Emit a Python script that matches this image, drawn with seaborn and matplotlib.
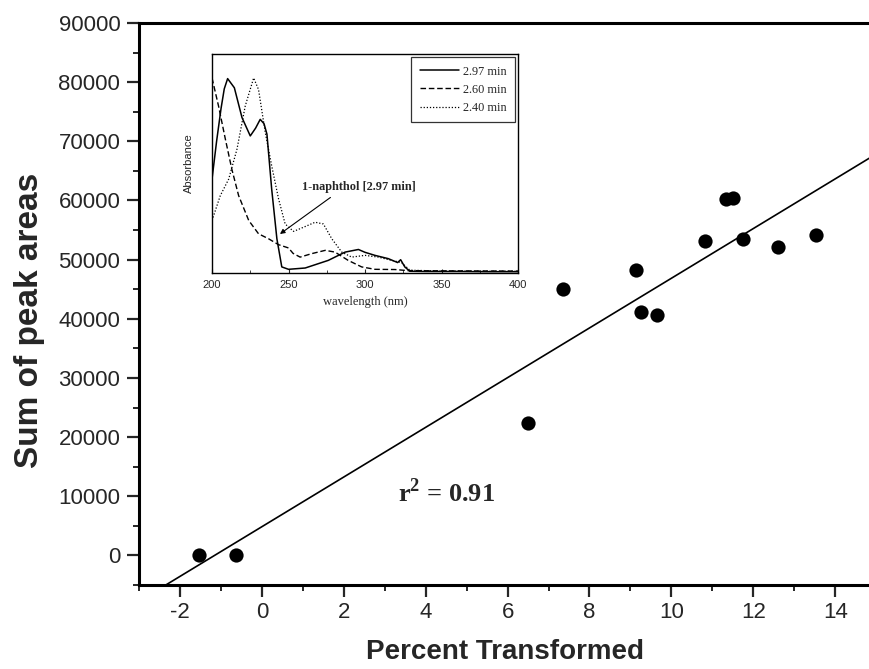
import matplotlib
matplotlib.use("Agg")
import matplotlib.pyplot as plt
import seaborn as sns
import pandas as pd
from matplotlib.ticker import MultipleLocator, NullLocator

# ---------------- main scatter data ----------------
percent_transformed = [-1.53, -0.63, 6.51, 7.35, 9.13, 9.25, 9.65, 10.83, 11.34, 11.50, 11.75, 12.61, 13.54]
sum_peak_areas = [0, 0, 22400, 45000, 48200, 41100, 40700, 53200, 60300, 60500, 53500, 52200, 54200]
fit_slope = 4200
fit_intercept = 4850
r_squared_label = r"r$^{\mathbf{2}}$ = 0.91"
x_ticks = [-2, 0, 2, 4, 6, 8, 10, 12, 14]
y_ticks = [0, 10000, 20000, 30000, 40000, 50000, 60000, 70000, 80000, 90000]

# ---------------- inset spectra data ----------------
wl_297 = [200, 203, 205.9, 208, 210.2, 214.6, 219.6, 225, 228.5, 231.5, 234, 235.9, 239, 242.4,
          245.6, 250, 260.9, 276, 287, 295.7, 300, 306.5, 315.2, 321.3, 323.3, 326, 329.3, 340, 360, 380, 400]
abs_297 = [0.426, 0.60, 0.75, 0.84, 0.887, 0.845, 0.708, 0.624, 0.66, 0.70, 0.68, 0.632, 0.38, 0.152,
           0.023, 0.012, 0.018, 0.053, 0.091, 0.103, 0.09, 0.076, 0.061, 0.043, 0.056, 0.023, 0.003, 0.002, 0.002, 0.001, 0.001]
wl_260 = [200, 204.3, 208.7, 213, 217.4, 224, 230.4, 237, 243.5, 250, 253, 257.6, 265.2, 274,
          280.4, 289, 297.8, 306.5, 319.6, 328, 350, 400]
abs_260 = [0.89, 0.76, 0.61, 0.47, 0.35, 0.236, 0.175, 0.152, 0.125, 0.11, 0.085, 0.068, 0.084, 0.099,
           0.091, 0.053, 0.023, 0.012, 0.011, 0.006, 0.005, 0.004]
wl_240 = [200, 205.4, 210.9, 216.3, 221.7, 227.2, 230.4, 234.8, 239, 243.5, 247.8, 253.3, 259.8, 267.4,
          272.8, 278.3, 284.8, 291.3, 300, 308.7, 317.4, 323.9, 329.3, 350, 400]
abs_240 = [0.236, 0.35, 0.426, 0.563, 0.761, 0.89, 0.837, 0.64, 0.487, 0.335, 0.22, 0.186, 0.205, 0.228,
           0.22, 0.152, 0.091, 0.068, 0.076, 0.068, 0.053, 0.043, 0.008, 0.004, 0.003]
legend_labels = ["2.97 min", "2.60 min", "2.40 min"]
inset_x_ticks = [200, 250, 300, 350, 400]
annotation_text = "1-naphthol [2.97 min]"

sns.set_theme(style="ticks")
plt.rcParams["font.family"] = ["Liberation Sans", "DejaVu Sans"]
plt.rcParams["axes.unicode_minus"] = False
plt.rcParams["mathtext.fontset"] = "custom"
plt.rcParams["mathtext.rm"] = "Liberation Serif"
plt.rcParams["mathtext.bf"] = "Liberation Serif:bold"
SERIF = ["Liberation Serif", "DejaVu Serif"]

fig = plt.figure(figsize=(8.7, 6.69), dpi=100)
ax = fig.add_axes([0.1598, 0.1256, 0.8402, 0.84])

main_df = pd.DataFrame({"x": percent_transformed, "y": sum_peak_areas})
ax.set_xlim(-3, 14.85)
ax.set_ylim(-5000, 90000)
ax.axline((0, fit_intercept), slope=fit_slope, color="black", lw=1.2, zorder=2)
sns.scatterplot(data=main_df, x="x", y="y", ax=ax, color="black", s=105,
                edgecolor="black", linewidth=0, zorder=3, legend=False)

ax.set_xticks(x_ticks)
ax.set_yticks(y_ticks)
ax.xaxis.set_minor_locator(MultipleLocator(1))
ax.yaxis.set_minor_locator(MultipleLocator(5000))
ax.tick_params(which="major", direction="out", length=8.5, width=1.6, labelsize=16, pad=5)
ax.tick_params(axis="x", which="major", pad=4)
ax.tick_params(which="minor", direction="out", length=4.5, width=1.4)
for s in ["left", "bottom", "top"]:
    ax.spines[s].set_linewidth(2.2)
    ax.spines[s].set_color("black")
ax.spines["right"].set_visible(False)
ax.set_xlabel("Percent Transformed", fontsize=20, fontweight="bold", labelpad=11)
ax.set_ylabel("Sum of peak areas", fontsize=24, fontweight="bold")
ax.yaxis.set_label_coords(-0.128, 0.47)
ax.text(4.52, 10650, r_squared_label, fontsize=19, fontweight="bold",
        family=SERIF, ha="center", va="center")

# ---------------- inset ----------------
axi = fig.add_axes([0.2437, 0.5919, 0.3517, 0.3274])
spec = pd.concat([
    pd.DataFrame({"wl": wl_297, "a": abs_297, "s": legend_labels[0]}),
    pd.DataFrame({"wl": wl_260, "a": abs_260, "s": legend_labels[1]}),
    pd.DataFrame({"wl": wl_240, "a": abs_240, "s": legend_labels[2]}),
])
styles = {legend_labels[0]: "-", legend_labels[1]: (0, (4, 2)), legend_labels[2]: (0, (1, 1.5))}
widths = {legend_labels[0]: 1.1, legend_labels[1]: 1.0, legend_labels[2]: 0.9}
for lab in legend_labels:
    sub = spec[spec["s"] == lab]
    sns.lineplot(data=sub, x="wl", y="a", ax=axi, color="black", lw=widths[lab],
                 linestyle=styles[lab], sort=False, label=lab, estimator=None)
axi.set_xlim(200, 400)
axi.set_ylim(-0.005, 1.0)
axi.set_xticks(inset_x_ticks)
axi.xaxis.set_minor_locator(MultipleLocator(25))
axi.yaxis.set_major_locator(NullLocator())
axi.tick_params(axis="x", which="major", direction="in", length=3, width=0.8, labelsize=8, pad=5)
axi.tick_params(axis="x", which="minor", direction="in", length=2, width=0.6)
for s in axi.spines.values():
    s.set_linewidth(1.0)
    s.set_color("black")
axi.set_xlabel("wavelength (nm)", fontsize=9, family=SERIF, labelpad=4)
axi.set_ylabel("Absorbance", fontsize=8, labelpad=13)
leg = axi.legend(loc="upper right", frameon=True, fancybox=False, handlelength=3.2,
                 borderaxespad=0.25, borderpad=0.7, labelspacing=0.5, handletextpad=0.3,
                 prop={"family": SERIF, "size": 8.8})
leg.get_frame().set_edgecolor("black")
leg.get_frame().set_linewidth(0.9)
axi.annotate(annotation_text, xy=(244.4, 0.174), xytext=(258.8, 0.388),
             fontsize=8.8, fontweight="bold", family=SERIF,
             ha="left", va="center",
             arrowprops=dict(arrowstyle="-|>", color="black", lw=0.8, mutation_scale=7,
                             relpos=(0.3, 0.0), shrinkA=1, shrinkB=0))

fig.savefig("out.png", dpi=100)
